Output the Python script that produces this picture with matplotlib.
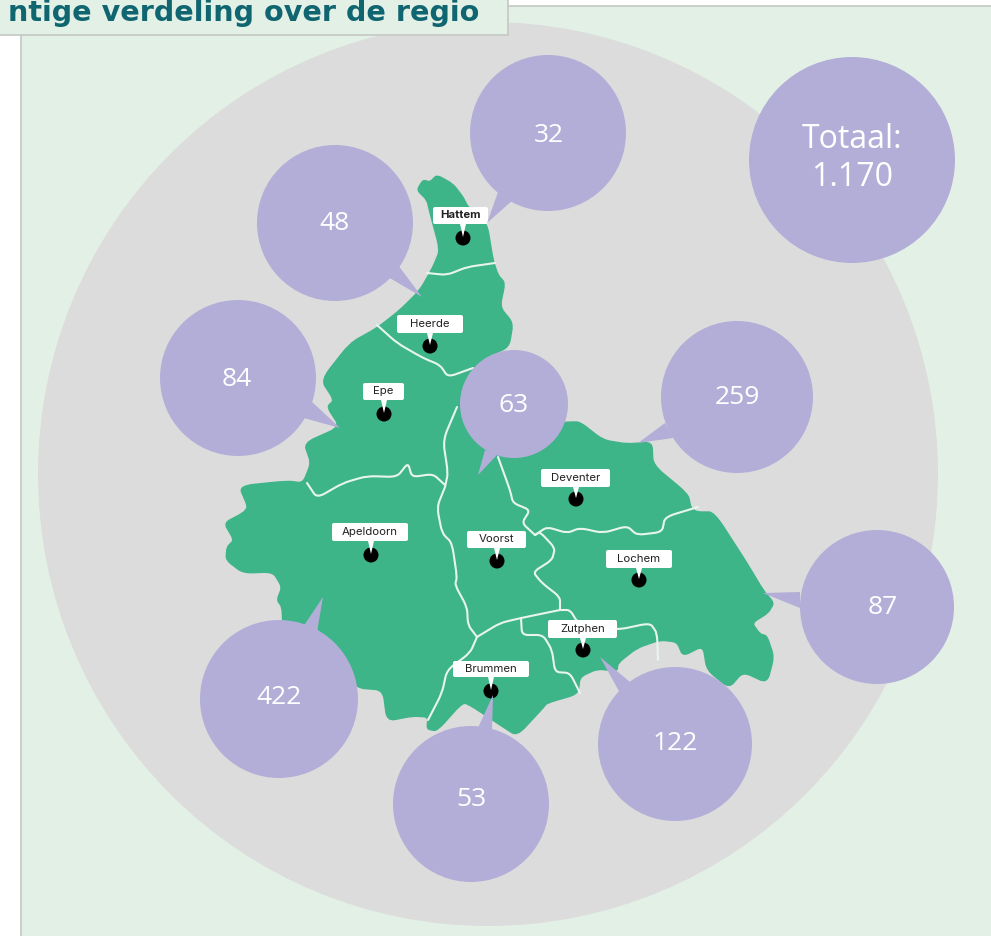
import matplotlib
matplotlib.use("Agg")
import matplotlib.pyplot as plt
from matplotlib.path import Path
from matplotlib.patches import Polygon, Circle, Ellipse, Rectangle, FancyBboxPatch, PathPatch

# Data
municipalities = ["Hattem", "Heerde", "Epe", "Apeldoorn", "Voorst", "Brummen", "Deventer", "Lochem", "Zutphen"]
counts = ["32", "48", "84", "422", "63", "53", "259", "87", "122"]
total_label = "Totaal:\n1.170"
title = "ntige verdeling over de regio"

# Map geometry (traced in image pixels)
region_outline = [
    (417,190),(423,180),(430,182),(437,175),(453,184),(463,197),(468,207),(487,223),(493,260),(498,275),
    (505,283),(500,307),(513,323),(509,347),(487,357),(473,368),(470,400),(500,420),(540,425),(568,422),
    (580,422),(603,440),(627,444),(652,442),(653,465),(688,494),(691,508),(697,512),(714,512),(747,563),
    (763,590),(774,603),(768,613),(752,623),(760,634),(767,636),(774,657),(767,683),(743,672),(729,688),
    (707,670),(703,646),(683,656),(677,642),(660,640),(637,648),(618,663),(617,671),(597,669),(580,677),
    (578,694),(547,703),(543,708),(517,736),(500,725),(473,707),(463,702),(437,731),(427,729),(428,717),
    (413,716),(387,721),(383,690),(357,688),(337,663),(320,633),(317,627),(283,628),(282,607),(277,600),
    (282,587),(273,572),(243,573),(226,560),(227,547),(234,540),(224,523),(243,513),(248,507),(239,486),
    (287,481),(303,483),(311,463),(304,443),(340,427),(327,407),(334,400),(321,380),(350,343),(377,328),
    (400,310),(420,290),(433,267),(440,250),(430,213),(427,200),
]
borders = [
    [(427,273),(447,275),(467,267),(495,263)],
    [(377,325),(397,343),(423,358),(440,365),(448,377),(473,368)],
    [(457,407),(443,440),(448,473),(445,487)],
    [(307,483),(317,498),(343,483),(367,476),(397,477),(408,463),(412,477),(433,474),(445,485)],
    [(445,487),(437,507),(442,533),(452,543),(457,577),(455,585),(467,607),(468,625),(477,637)],
    [(477,637),(470,653),(447,670),(442,693),(428,720)],
    [(477,637),(500,623),(521,618),(560,610)],
    [(521,618),(522,635),(543,635),(552,650),(555,672),(570,673),(580,693)],
    [(498,457),(510,490),(513,503),(530,510),(522,523),(535,535)],
    [(535,535),(540,532),(555,548),(552,560),(533,572),(542,583),(560,597),(560,610)],
    [(535,535),(547,527),(567,533),(580,528),(603,533),(627,526),(637,535),(662,532),(665,517),(698,507)],
    [(560,610),(570,610),(578,623),(617,630),(650,623),(657,633),(658,660)],
]

# Layout
bubble_centres = [(548,133),(335,223),(238,378),(279,699),(514,404),(471,804),(737,397),(877,607),(675,744)]
bubble_radii = [78,78,78,79,54,78,76,77,77]
count_positions = [(549,132),(334,220.5),(237,376.5),(279,694),(514,403),(471,796),(737,394.5),(883,604),(675,740.5)]
bubble_tails = [
    [(498,192),(513,200),(487,223)],
    [(398,265),(388,277),(422,297)],
    [(310,400),(300,417),(340,428)],
    [(303,627),(317,632),(323,597)],
    [(485,450),(497,455),(478,475)],
    [(477,730),(492,730),(493,695)],
    [(665,423),(673,438),(638,443)],
    [(800,592),(800,608),(763,593)],
    [(620,693),(630,682),(600,657)],
]
label_boxes = [(433,207,488,224),(397,315,463,333),(363,383,404,400),(332,523,408,541),(467,531,526,548),
               (453,661,529,677),(541,469,610,487),(606,550,672,568),(548,620,617,638)]
pins = [(463,238),(430,346),(384,414),(371,555),(497,561),(491,691),(576,499),(639,580),(583,650)]

PANEL = "#E3F0E6"; EDGE = "#C4C8C5"; GREY = "#DCDCDC"; GREEN = "#3EB489"; LILAC = "#B3AED8"; TEAL = "#0F6570"
CORNER = 0.3


def rounded_path(pts, closed=False):
    """Path through the traced points with each interior corner rounded by a quadratic bezier."""
    lerp = lambda p, q, t: (p[0]+(q[0]-p[0])*t, p[1]+(q[1]-p[1])*t)
    n = len(pts)
    idx = range(n) if closed else range(1, n-1)
    verts, codes = [], []
    if not closed:
        verts.append(pts[0]); codes.append(Path.MOVETO)
    for i in idx:
        p, a, b = pts[i], pts[(i-1) % n], pts[(i+1) % n]
        verts.append(lerp(p, a, CORNER))
        codes.append(Path.MOVETO if closed and i == 0 else Path.LINETO)
        verts += [p, lerp(p, b, CORNER)]
        codes += [Path.CURVE3, Path.CURVE3]
    if closed:
        verts.append(verts[0]); codes.append(Path.CLOSEPOLY)
    else:
        verts.append(pts[-1]); codes.append(Path.LINETO)
    return Path(verts, codes)


fig = plt.figure(figsize=(9.91, 9.36), dpi=100, facecolor="white")
ax = fig.add_axes([0, 0, 1, 1])
ax.set_xlim(0, 991); ax.set_ylim(936, 0); ax.axis("off")

ax.add_patch(Rectangle((21, 5.5), 985, 950, fc=PANEL, ec=EDGE, lw=1.2, zorder=1))
ax.add_patch(Ellipse((488, 474), 900, 904, fc=GREY, ec="none", zorder=2))
ax.add_patch(Rectangle((-5, -5), 513, 40, fc=PANEL, ec=EDGE, lw=1.2, zorder=3))
ax.text(479, 21, title, ha="right", va="baseline", fontsize=20.6, fontweight="bold",
        family="DejaVu Sans", color=TEAL, zorder=4)

ax.add_patch(PathPatch(rounded_path(region_outline, closed=True), fc=GREEN, ec=GREEN, lw=1.0, zorder=5))
for line in borders:
    ax.add_patch(PathPatch(rounded_path(line), fc="none", ec="#E8F5EE", lw=1.5, capstyle="round", zorder=6))

for name, (x0, y0, x1, y1), (px, py) in zip(municipalities, label_boxes, pins):
    ax.add_patch(Circle((px, py), 7.5, fc="black", ec="none", zorder=7))
    ax.add_patch(Polygon([(px-3, y1), (px+3, y1), (px, py-1)], fc="white", ec="none", zorder=8))
    ax.add_patch(FancyBboxPatch((x0+1, y0+1), x1-x0-2, y1-y0-2, boxstyle="round,pad=1,rounding_size=2",
                                fc="white", ec="none", zorder=8))
    ax.text((x0+x1)/2, (y0+y1)/2, name, ha="center", va="center", fontsize=8.2, family="Inter",
            fontweight="bold" if name == "Hattem" else "normal", color="#222222", zorder=9)

for val, (cx, cy), r, tail, (tx, ty) in zip(counts, bubble_centres, bubble_radii, bubble_tails, count_positions):
    ax.add_patch(Circle((cx, cy), r, fc=LILAC, ec="none", zorder=10))
    ax.add_patch(Polygon(tail, closed=True, fc=LILAC, ec="none", zorder=10))
    ax.text(tx, ty, val, ha="center", va="center_baseline", fontsize=19, family="Open Sans", color="white", zorder=11)

ax.add_patch(Circle((852, 160), 103, fc=LILAC, ec="none", zorder=10))
ax.text(852, 158, total_label, ha="center", va="center", fontsize=23, family="Open Sans",
        color="white", linespacing=1.2, zorder=11)

fig.savefig("out.png", dpi=100)
